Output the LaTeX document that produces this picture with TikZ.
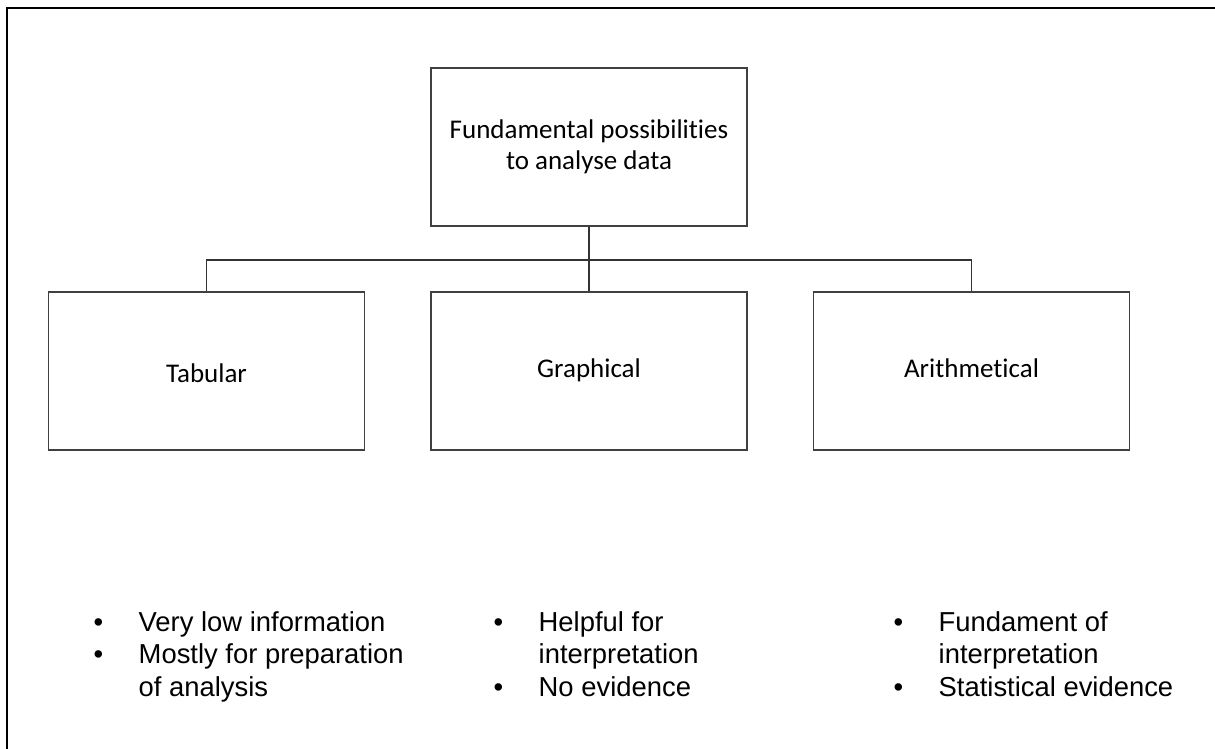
\documentclass[tikz,border=0pt]{standalone}
\usepackage{fontspec}
\setmainfont{Liberation Sans}
\newfontfamily\boxfont[Ligatures=NoCommon]{Carlito}
\begin{document}
\begin{tikzpicture}[x=1pt,y=-1pt,
  box/.style={draw=black!75, line width=1.2pt, fill=white,
    minimum width=316pt, minimum height=158pt, inner sep=0pt,
    font=\boxfont\fontsize{27}{30.5}\selectfont, align=center},
  lowbox/.style={box, text height=18pt, text depth=5pt},
  link/.style={draw=black!80, line width=1.3pt},
  bullets/.style={anchor=base west, inner sep=0pt,
    font=\fontsize{27.4}{32.8}\selectfont}]
  \useasboundingbox (0,0) rectangle (1215,749);

  % outer frame (runs past the right and bottom edges)
  \draw[line width=2pt] (7,8) rectangle (1240,770);

  % boxes
  \node[box] (top) at (589,147) {Fundamental possibilities\\to analyse data};
  \node[lowbox] (tab) at (206.5,371) {\raisebox{-5pt}{Tabular}};
  \node[lowbox] (graph) at (589,371) {Graphical};
  \node[lowbox] (arith) at (971.5,371) {Arithmetical};

  % tree connectors
  \coordinate (bus) at (589,260);
  \draw[link] (top.south) -- (graph.north);
  \draw[link] (tab.north) |- (bus) -| (arith.north);

  % bullet lists
  \node[bullets] (tabnotes) at (93.5,631) {%
    \begin{tabular}[t]{@{}p{45pt}@{}l@{}}
      • & Very low information\\
      • & Mostly for preparation\\
        & of analysis
    \end{tabular}};
  \node[bullets] (graphnotes) at (493.5,631) {%
    \begin{tabular}[t]{@{}p{45pt}@{}l@{}}
      • & Helpful for\\
        & interpretation\\
      • & No evidence
    \end{tabular}};
  \node[bullets] (arithnotes) at (893.5,631) {%
    \begin{tabular}[t]{@{}p{45pt}@{}l@{}}
      • & Fundament of\\
        & interpretation\\
      • & Statistical evidence
    \end{tabular}};
\end{tikzpicture}
\end{document}
